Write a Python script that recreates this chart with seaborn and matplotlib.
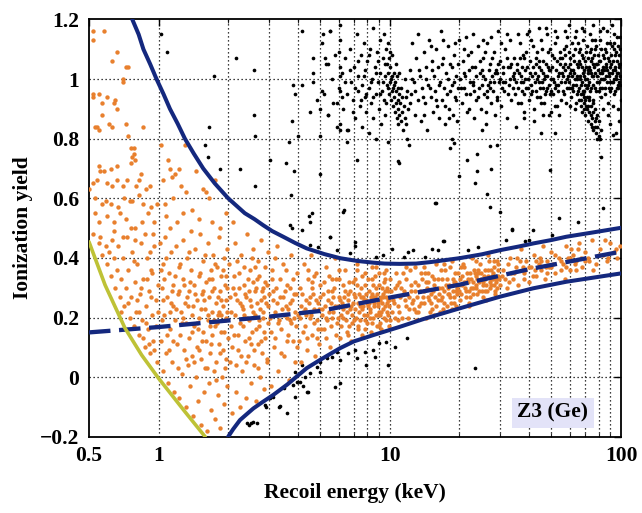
import numpy as np
import pandas as pd
import matplotlib
matplotlib.use("Agg")
import matplotlib.pyplot as plt
import seaborn as sns

# ---------------- data ----------------
# nuclear-recoil (orange) events, by region
nr_upper_left = [(0.52,1.16),(0.52,1.13),(0.58,1.16),(0.63,1.06),(0.66,1.09),(0.72,1.04),(0.74,1.04),(0.70,0.99),(0.70,1.00),
    (0.52,0.95),(0.52,0.94),(0.55,0.95),(0.57,0.92),(0.60,0.94),(0.64,0.92),(0.65,0.93),(0.66,0.90),(0.57,0.88),(0.53,0.84),
    (0.54,0.84),(0.55,0.83),(0.61,0.85),(0.63,0.84),(0.72,0.85),(0.74,0.81),(0.86,0.84),(0.76,0.77),(0.78,0.77),(0.77,0.74),
    (0.78,0.75),(0.55,0.71),(0.56,0.69),(0.58,0.69),(0.62,0.70),(0.66,0.71),(0.76,0.72),(0.79,0.73),(0.82,0.66),(0.84,0.68),
    (0.50,0.63),(0.52,0.65),(0.54,0.66),(0.60,0.65),(0.63,0.64),(0.66,0.66),(0.70,0.64),(0.73,0.66),(0.80,0.64),(0.88,0.63),
    (0.92,0.64),(0.53,0.60),(0.57,0.58),(0.59,0.59),(0.62,0.58),(0.67,0.57),(0.71,0.60),(0.75,0.59),(0.77,0.59),(0.82,0.61),
    (0.86,0.58),(0.93,0.57),(0.98,0.58),(0.53,0.55),(0.55,0.52),(0.60,0.54),(0.64,0.52),(0.68,0.55),(0.72,0.53),(0.76,0.50),
    (0.79,0.50),(0.85,0.52),(0.90,0.55),(0.96,0.52)]
nr_upper_mid = [(1.02,0.78),(1.10,0.73),(1.12,0.70),(1.18,0.68),(1.14,0.67),(1.22,0.70),(1.30,0.78),(1.45,0.69),(1.55,0.63),
    (1.60,0.62),(1.05,0.66),(1.25,0.64),(1.07,0.58),(1.15,0.60),(1.32,0.62),(1.40,0.56),(1.65,0.60),(1.75,0.66),(1.95,0.55),
    (1.08,0.54),(1.20,0.52),(1.28,0.55),(1.50,0.53),(1.70,0.52),(1.85,0.50),(2.1,0.52),(1.12,0.50),(1.38,0.49)]
nr_below_1kev = [(0.52,0.48),(0.55,0.45),(0.57,0.41),(0.56,0.47),(0.59,0.44),(0.60,0.38),(0.61,0.42),(0.62,0.34),(0.63,0.46),
    (0.64,0.40),(0.65,0.30),(0.66,0.36),(0.67,0.44),(0.68,0.27),(0.69,0.33),(0.70,0.40),(0.71,0.24),(0.72,0.30),(0.73,0.47),
    (0.74,0.36),(0.75,0.20),(0.76,0.27),(0.77,0.42),(0.78,0.17),(0.79,0.32),(0.80,0.22),(0.81,0.38),(0.82,0.14),(0.83,0.28),
    (0.84,0.45),(0.85,0.19),(0.86,0.33),(0.87,0.10),(0.88,0.24),(0.89,0.40),(0.90,0.16),(0.91,0.29),(0.92,0.08),(0.93,0.36),
    (0.94,0.21),(0.95,0.12),(0.96,0.44),(0.97,0.26),(0.98,0.05),(0.99,0.31),(0.64,0.49),(0.70,0.47),(0.79,0.46),(0.87,0.48),
    (0.95,0.48),(0.74,0.25),(0.82,0.22),(0.86,0.13),(0.91,0.11),(0.94,0.35),(0.97,0.17),(0.89,0.33),(0.78,0.39),(0.69,0.22),
    (0.84,0.30),(0.92,0.42),(0.99,0.22),(0.96,0.09),(0.93,0.27),(0.88,0.18),(0.81,0.26)]
nr_1_to_2kev = [(1.01,0.45),(1.02,0.12),(1.03,0.30),(1.04,0.02),(1.05,0.38),(1.06,0.21),(1.07,0.47),(1.08,0.08),(1.09,0.27),
    (1.10,-0.02),(1.11,0.35),(1.12,0.16),(1.13,0.42),(1.14,0.05),(1.15,0.24),(1.16,0.31),(1.17,-0.05),(1.18,0.19),(1.19,0.44),
    (1.20,0.11),(1.21,0.28),(1.22,-0.07),(1.23,0.37),(1.24,0.14),(1.25,0.22),(1.26,0.01),(1.27,0.33),(1.28,0.46),(1.29,0.09),
    (1.30,0.25),(1.31,-0.10),(1.32,0.18),(1.33,0.40),(1.34,0.04),(1.35,0.29),(1.36,0.13),(1.37,-0.03),(1.38,0.36),(1.39,0.21),
    (1.40,0.07),(1.41,-0.13),(1.42,0.31),(1.43,0.17),(1.44,0.43),(1.45,0.00),(1.46,0.26),(1.47,0.10),(1.48,-0.08),(1.49,0.34),
    (1.50,0.20),(1.51,0.48),(1.52,0.06),(1.53,-0.16),(1.54,0.28),(1.55,0.15),(1.56,0.39),(1.57,-0.05),(1.58,0.23),(1.59,0.03),
    (1.60,0.32),(1.61,0.12),(1.62,-0.18),(1.63,0.45),(1.64,0.19),(1.65,-0.02),(1.66,0.27),(1.67,0.08),(1.68,0.36),(1.69,-0.11),
    (1.70,0.22),(1.71,0.14),(1.72,0.41),(1.73,0.02),(1.74,0.30),(1.75,-0.14),(1.76,0.17),(1.77,0.25),(1.78,0.05),(1.79,0.37),
    (1.80,-0.06),(1.81,0.21),(1.82,0.11),(1.83,0.47),(1.84,0.29),(1.85,-0.17),(1.86,0.15),(1.87,0.34),(1.88,0.00),(1.89,0.24),
    (1.90,0.09),(1.91,0.40),(1.92,-0.09),(1.93,0.19),(1.94,0.31),(1.95,0.06),(1.96,0.26),(1.97,-0.03),(1.98,0.43),(1.99,0.13),
    (1.05,0.26),(1.12,0.22),(1.18,0.34),(1.26,0.18),(1.33,0.27),(1.41,0.24),(1.48,0.16),(1.55,0.29),(1.63,0.21),(1.71,0.33),
    (1.79,0.18),(1.87,0.26),(1.95,0.20),(1.09,0.14),(1.22,0.29),(1.37,0.32),(1.52,0.23),(1.67,0.17),(1.83,0.22),(1.97,0.30),
    (1.03,0.19),(1.06,0.33),(1.08,0.40),(1.11,0.09),(1.13,0.25),(1.16,0.12),(1.19,0.23),(1.21,0.03),(1.24,0.38),(1.27,0.20),
    (1.29,0.31),(1.32,0.06),(1.34,0.24),(1.36,0.42),(1.39,0.15),(1.42,0.05),(1.44,0.28),(1.46,0.18),(1.49,0.09),(1.51,0.35),
    (1.54,0.12),(1.57,0.26),(1.59,0.41),(1.62,0.03),(1.65,0.33),(1.68,0.11),(1.70,0.29),(1.73,0.19),(1.76,0.38),(1.78,-0.01),
    (1.81,0.27),(1.84,0.08),(1.86,0.21),(1.89,0.36),(1.92,0.15),(1.94,0.03),(1.96,0.34),(1.98,0.22),(1.02,0.36),(1.14,0.29)]
nr_2_to_4kev = [(2.02,0.38),(2.04,0.05),(2.06,0.22),(2.08,-0.12),(2.10,0.30),(2.12,0.14),(2.14,0.45),(2.16,-0.05),(2.18,0.26),
    (2.20,0.09),(2.22,0.35),(2.24,0.18),(2.26,-0.10),(2.28,0.41),(2.30,0.02),(2.32,0.23),(2.34,0.31),(2.36,0.12),(2.38,-0.07),
    (2.40,0.27),(2.42,0.48),(2.44,0.07),(2.46,0.19),(2.48,0.36),(2.50,-0.02),(2.52,0.24),(2.54,0.15),(2.56,0.43),(2.58,0.04),
    (2.60,0.29),(2.62,0.21),(2.64,-0.08),(2.66,0.33),(2.68,0.11),(2.70,0.39),(2.72,0.17),(2.74,0.00),(2.76,0.26),(2.78,0.46),
    (2.80,0.08),(2.82,0.30),(2.84,0.20),(2.86,-0.04),(2.88,0.37),(2.90,0.13),(2.92,0.25),(2.94,0.05),(2.96,0.42),(2.98,0.18),
    (3.00,0.28),(3.05,-0.03),(3.10,0.33),(3.15,0.10),(3.20,0.22),(3.25,0.44),(3.30,0.02),(3.35,0.27),(3.40,0.16),(3.45,0.38),
    (3.50,0.07),(3.55,0.24),(3.60,0.31),(3.65,-0.01),(3.70,0.19),(3.75,0.41),(3.80,0.12),(3.85,0.28),(3.90,0.05),(3.95,0.35),
    (4.00,0.21),(2.15,0.28),(2.35,0.21),(2.55,0.32),(2.75,0.23),(2.95,0.31),(3.12,0.26),(3.32,0.19),(3.52,0.29),(3.72,0.25),
    (3.92,0.17),(2.25,0.25),(2.45,0.29),(2.65,0.16),(2.85,0.27),(3.22,0.30),(3.42,0.23),(3.62,0.14),(3.82,0.33),(2.05,0.17),
    (2.52,0.11),(3.05,0.15),(3.58,0.20),(2.62,0.37),(3.18,0.40),(3.88,0.22),
    (2.03,0.27),(2.07,0.10),(2.11,0.34),(2.13,0.21),(2.17,0.04),(2.19,0.39),(2.21,0.14),(2.23,0.30),(2.27,0.07),(2.29,0.24),
    (2.31,0.17),(2.33,0.37),(2.37,0.28),(2.39,0.05),(2.41,0.20),(2.43,0.33),(2.47,0.13),(2.49,0.26),(2.53,0.40),(2.57,0.22),
    (2.59,0.09),(2.63,0.30),(2.67,0.25),(2.69,0.03),(2.71,0.34),(2.73,0.19),(2.77,0.12),(2.79,0.29),(2.83,0.22),(2.87,0.15),
    (2.89,0.32),(2.93,0.06),(2.97,0.24),(3.02,0.20),(3.08,0.36),(3.14,0.29),(3.19,0.13),(3.24,0.25),(3.29,0.18),(3.34,0.33),
    (3.39,0.08),(3.44,0.27),(3.49,0.21),(3.54,0.36),(3.59,0.12),(3.64,0.23),(3.69,0.30),(3.74,0.18),(3.79,0.26),(3.86,0.20),
    (3.94,0.28),(3.98,0.10)]
nr_4_to_10kev = [(4.05,0.12),(4.1,0.30),(4.15,0.05),(4.2,0.22),(4.25,0.38),(4.3,0.17),(4.35,0.26),(4.4,0.09),(4.45,0.33),
    (4.5,0.20),(4.55,0.41),(4.6,0.14),(4.65,0.28),(4.7,0.23),(4.75,0.07),(4.8,0.35),(4.85,0.19),(4.9,0.25),(4.95,0.11),(5.0,0.31),
    (5.1,0.21),(5.2,0.16),(5.3,0.37),(5.4,0.26),(5.5,0.10),(5.6,0.29),(5.7,0.22),(5.8,0.40),(5.9,0.18),(6.0,0.33),(6.1,0.13),
    (6.2,0.25),(6.3,0.20),(6.4,0.36),(6.5,0.15),(6.6,0.28),(6.7,0.23),(6.8,0.12),(6.9,0.32),(7.0,0.19),(7.1,0.27),(7.2,0.38),
    (7.3,0.16),(7.4,0.24),(7.5,0.30),(7.6,0.14),(7.7,0.21),(7.8,0.35),(7.9,0.26),(8.0,0.18),(8.1,0.29),(8.2,0.23),(8.3,0.15),
    (8.4,0.33),(8.5,0.20),(8.6,0.27),(8.7,0.37),(8.8,0.17),(8.9,0.25),(9.0,0.31),(9.1,0.21),(9.2,0.16),(9.3,0.28),(9.4,0.35),
    (9.5,0.24),(9.6,0.19),(9.7,0.30),(9.8,0.26),(9.9,0.17),(10.0,0.33),(4.12,0.24),(4.32,0.21),(4.52,0.27),(4.72,0.18),
    (4.92,0.23),(5.15,0.28),(5.35,0.19),(5.55,0.25),(5.75,0.30),(5.95,0.24),(6.15,0.21),(6.35,0.27),(6.55,0.22),(6.75,0.29),
    (6.95,0.25),(7.15,0.20),(7.35,0.28),(7.55,0.23),(7.75,0.26),(7.95,0.21),(8.15,0.25),(8.35,0.28),(8.55,0.24),(8.75,0.30),
    (8.95,0.22),(9.15,0.27),(9.35,0.23),(9.55,0.29),(9.75,0.22),(9.95,0.26),(4.22,0.15),(4.62,0.32),(5.05,0.16),(5.45,0.34),
    (5.85,0.14),(6.25,0.31),(6.65,0.17),(7.05,0.33),(7.45,0.19),(7.85,0.31),(8.25,0.20),(8.65,0.34),(9.05,0.18),(9.45,0.32),
    (9.85,0.21),(4.42,0.36),(4.82,0.13),(5.25,0.24),(5.65,0.20),(6.05,0.27),(6.45,0.24),(6.85,0.21),(7.25,0.25),(7.65,0.27),
    (8.05,0.24),(8.45,0.27),(8.85,0.21),(9.25,0.25),(9.65,0.27),
    (4.08,0.20),(4.18,0.28),(4.28,0.23),(4.38,0.13),(4.48,0.25),(4.58,0.21),(4.68,0.34),(4.78,0.26),(4.88,0.16),(4.98,0.27),
    (5.08,0.23),(5.18,0.32),(5.28,0.20),(5.38,0.29),(5.48,0.22),(5.58,0.17),(5.68,0.27),(5.78,0.24),(5.88,0.33),(5.98,0.20),
    (6.08,0.26),(6.18,0.17),(6.28,0.23),(6.38,0.29),(6.48,0.19),(6.58,0.26),(6.68,0.32),(6.78,0.24),(6.88,0.18),(6.98,0.28),
    (7.08,0.23),(7.18,0.31),(7.28,0.17),(7.38,0.22),(7.48,0.27),(7.58,0.34),(7.68,0.24),(7.78,0.19),(7.88,0.28),(7.98,0.25),
    (8.08,0.33),(8.18,0.22),(8.28,0.27),(8.38,0.18),(8.48,0.31),(8.58,0.25),(8.68,0.21),(8.78,0.28),(8.88,0.24),(8.98,0.35),
    (9.08,0.26),(9.18,0.22),(9.28,0.30),(9.38,0.27),(9.48,0.20),(9.58,0.33),(9.68,0.25),(9.78,0.29),(9.88,0.24),(9.98,0.19),
    (4.6,0.30),(5.3,0.13),(6.0,0.36),(6.6,0.14),(7.2,0.36),(7.8,0.16),(8.4,0.37),(9.0,0.17),(9.6,0.36),(5.6,0.33)]
nr_10_to_30kev = [(10.2,0.22),(10.5,0.30),(10.8,0.19),(11.1,0.27),(11.4,0.35),(11.7,0.24),(12.0,0.20),(12.3,0.31),(12.6,0.26),
    (12.9,0.37),(13.2,0.22),(13.5,0.29),(13.8,0.33),(14.1,0.25),(14.4,0.20),(14.7,0.35),(15.0,0.28),(15.3,0.23),(15.6,0.31),
    (15.9,0.38),(16.2,0.26),(16.5,0.22),(16.8,0.33),(17.1,0.29),(17.4,0.36),(17.7,0.24),(18.0,0.31),(18.3,0.27),(18.6,0.39),
    (18.9,0.25),(19.2,0.32),(19.5,0.28),(19.8,0.35),(20.2,0.26),(20.6,0.31),(21.0,0.37),(21.4,0.29),(21.8,0.33),(22.2,0.27),
    (22.6,0.40),(23.0,0.30),(23.4,0.35),(23.8,0.28),(24.2,0.32),(24.6,0.38),(25.0,0.29),(25.5,0.34),(26.0,0.31),(26.5,0.41),
    (27.0,0.30),(27.5,0.36),(28.0,0.33),(28.5,0.29),(29.0,0.39),(29.5,0.34),(30.0,0.31),(10.3,0.26),(10.9,0.24),(11.5,0.29),
    (12.1,0.27),(12.7,0.23),(13.3,0.31),(13.9,0.27),(14.5,0.30),(15.1,0.25),(15.7,0.27),(16.3,0.30),(16.9,0.27),(17.5,0.31),
    (18.1,0.28),(18.7,0.33),(19.3,0.29),(19.9,0.31),(20.5,0.34),(21.1,0.30),(21.7,0.32),(22.3,0.35),(22.9,0.32),(23.5,0.30),
    (24.1,0.35),(24.7,0.33),(25.3,0.31),(25.9,0.36),(26.5,0.34),(27.1,0.32),(27.7,0.34),(28.3,0.37),(28.9,0.32),(29.5,0.36),
    (10.6,0.35),(11.3,0.20),(12.2,0.36),(13.0,0.19),(14.0,0.37),(14.9,0.22),(16.0,0.39),(17.0,0.23),(18.2,0.37),(19.4,0.24),
    (20.8,0.38),(22.0,0.25),(23.6,0.39),(25.2,0.27),(26.8,0.39),(28.6,0.28),(11.0,0.32),(11.9,0.28),(12.9,0.29),(13.7,0.25),
    (14.6,0.27),(15.5,0.33),(16.6,0.26),(17.8,0.28),(19.0,0.27),(20.0,0.29),(21.3,0.27),(22.5,0.30),(23.9,0.33),(25.7,0.29),
    (27.3,0.33),(29.2,0.30),
    (10.1,0.29),(10.4,0.25),(10.7,0.31),(11.0,0.22),(11.2,0.30),(11.6,0.26),(11.8,0.33),(12.1,0.23),(12.4,0.29),(12.8,0.32),
    (13.1,0.27),(13.4,0.24),(13.6,0.35),(14.0,0.29),(14.3,0.32),(14.8,0.26),(15.2,0.34),(15.4,0.29),(15.8,0.24),(16.1,0.33),
    (16.4,0.28),(16.7,0.36),(17.2,0.25),(17.6,0.33),(17.9,0.30),(18.4,0.25),(18.8,0.29),(19.1,0.35),(19.6,0.30),(20.1,0.33),
    (20.4,0.28),(20.9,0.32),(21.5,0.35),(21.9,0.29),(22.4,0.33),(22.8,0.28),(23.2,0.36),(23.7,0.31),(24.4,0.29),(24.9,0.35),
    (25.4,0.32),(26.2,0.29),(26.7,0.36),(27.4,0.31),(27.9,0.35),(28.7,0.33),(29.3,0.38),(29.8,0.33),(10.5,0.20),(11.7,0.37),
    (13.0,0.22),(14.2,0.35),(15.6,0.21),(17.1,0.38),(18.5,0.23),(20.3,0.37),(21.9,0.24),(24.0,0.36),(26.0,0.26),(28.1,0.39),
    (12.5,0.25),(14.6,0.32),(16.8,0.30),(19.0,0.32),(21.4,0.32),(23.6,0.34),(25.8,0.33),(28.2,0.31)]
nr_30_to_100kev = [(31,0.36),(32,0.30),(33,0.40),(34,0.33),(35,0.37),(36,0.31),(37,0.43),(38,0.35),(39,0.39),(40,0.32),(41,0.37),
    (42,0.41),(43,0.34),(44,0.38),(45,0.36),(46,0.44),(47,0.33),(48,0.39),(49,0.37),(50,0.42),(52,0.35),(54,0.40),(56,0.38),
    (58,0.44),(60,0.36),(62,0.41),(64,0.39),(66,0.45),(68,0.37),(70,0.42),(72,0.40),(75,0.46),(78,0.38),(81,0.43),(84,0.41),
    (87,0.39),(90,0.45),(93,0.42),(96,0.40),(99,0.44),(31.5,0.33),(33.5,0.35),(35.5,0.40),(38.5,0.36),(41.5,0.34),(44.5,0.40),
    (47.5,0.37),(51,0.38),(55,0.36),(59,0.40),(63,0.38),(67,0.40),(73,0.39),(80,0.41),(88,0.40),(95,0.43),(57,0.33),(65,0.43),
    (76,0.36),(85,0.46),(30.5,0.34),(32.5,0.38),(34.5,0.35),(36.5,0.39),(38,0.33),(40,0.37),(42.5,0.36),(45,0.39),(48,0.35),
    (52,0.41),(55,0.39),(58,0.37),(61,0.43),(64,0.36),(70,0.39),(32.8,0.32),(37.5,0.37),(43,0.39),(50,0.37),(60,0.40)]

# electron-recoil and other (black) events, by region
er_scattered_low = [(1.02,1.15),(1.09,1.09),(2.17,1.07),(1.73,1.01),(1.65,0.84),(1.59,0.78),(1.63,0.74),(1.85,0.70),(2.24,0.70),
    (2.58,1.03),(2.58,0.88),(2.62,0.81),(2.61,0.64),(3.03,0.73),(3.55,0.72),(3.85,0.69),(3.73,0.61),(4.16,1.16),(3.83,0.98),
    (3.89,0.95),(4.19,0.98),(4.65,1.07),(4.67,1.02),(4.67,0.99),(4.5,0.89),(3.76,0.86),(4.0,0.81),(3.67,0.79),(5.0,0.90),
    (5.07,0.96),(4.83,0.93),(5.5,1.16),(5.13,1.15),(5.22,1.07),(5.4,1.05),(5.39,0.88),(5.0,0.81),(5.0,0.68),(5.9,0.92),
    (6.1,1.18),(6.05,1.09),(6.1,1.04),(6.1,1.01),(6.1,0.96),(6.1,0.85),(6.1,0.83),(6.5,0.83),(6.5,0.79),(7.2,0.73),
    (4.46,0.54),(4.59,0.55),(4.5,0.52),(6.36,0.56),(3.7,0.51)]
er_below_band = [(2.41,-0.155),(2.45,-0.16),(2.5,-0.155),(2.55,-0.15),(2.92,-0.10),(3.13,-0.066),(3.35,-0.097),(3.83,-0.026),
    (3.9,-0.066),(4.09,-0.015),(4.2,-0.03),(4.44,-0.049),(4.52,0.013),(4.83,0.035),(2.66,-0.155),(2.88,-0.094),(3.32,-0.10),
    (3.03,-0.07),(3.47,-0.038),(3.95,-0.015),(3.89,0.018),(4.17,0.04),(4.30,0.001),(4.37,-0.049),(5.0,0.018),(5.0,0.052),
    (5.33,0.063),(5.62,0.068),(5.9,0.085),(6.1,0.057),(7.07,0.091),(7.2,0.063),(7.8,0.085),(8.6,0.068),(9.8,0.04),(9.67,0.119),
    (5.8,-0.032),(6.1,-0.02),(7.9,0.04),(8.5,0.09),(9.0,0.113),(11.9,0.13),(23.3,0.03),(6.6,0.08),(10.5,0.10),(3.6,-0.12)]
er_above_band = [(3.76,0.50),(4.16,0.494),(5.5,0.471),(5.9,0.426),(7.07,0.441),(7.1,0.455),(6.7,0.415),(8.7,0.404),(9.3,0.41),
    (10.2,0.43),(4.9,0.437),(4.5,0.443),(11.5,0.404),(12.0,0.42),(12.6,0.426),(14.2,0.404),(17.2,0.457),(21.7,0.426),
    (24.0,0.438),(31.8,0.46),(33.8,0.494),(38.4,0.457),(40.0,0.46),(41.7,0.494),(50.1,0.477),(16.1,0.426),(15.2,0.43)]
er_intermediate = [(18.2,0.768),(18.9,0.785),(21.6,0.728),(23.8,0.748),(23.8,0.692),(23.3,0.652),(27.3,0.70),(27.2,0.775),
    (29.0,0.78),(26.3,0.614),(27.2,0.572),(30.0,0.555),(19.9,0.675),(15.8,0.583),(11.0,0.72),(49.5,0.695),(53.8,0.533),
    (65.4,0.521),(83.8,0.568),(81.6,0.74),(92.0,0.812),(52.0,0.818),(18.5,0.80),(9.8,0.79),(10.9,0.725),(6.3,0.555),
    (5.5,0.471),(15.7,0.585),(17.0,0.458),(33.8,0.496),(45.0,0.82),(35.0,0.84),(25.0,0.83)]
er_band_5_to_10 = [(5.1,1.12),(5.2,0.95),(5.3,1.05),(5.4,0.88),(5.5,1.16),(5.6,1.00),(5.7,0.92),(5.8,1.08),(5.9,0.84),(6.0,0.97),
    (6.1,1.13),(6.2,1.02),(6.3,0.90),(6.4,1.07),(6.5,0.95),(6.6,0.83),(6.7,1.10),(6.8,0.99),(6.9,0.93),(7.0,1.04),(7.1,0.87),
    (7.2,1.15),(7.25,0.96),(7.3,1.01),(7.4,0.91),(7.5,1.08),(7.55,0.84),(7.6,0.98),(7.7,1.12),(7.8,0.94),(7.85,1.03),(7.9,0.89),
    (8.0,1.06),(8.1,0.97),(8.15,0.82),(8.2,1.10),(8.3,0.92),(8.4,1.00),(8.45,1.17),(8.5,0.87),(8.6,1.04),(8.7,0.95),(8.75,0.80),
    (8.8,1.09),(8.9,0.99),(9.0,0.90),(9.05,1.13),(9.1,1.02),(9.2,0.85),(9.25,0.96),(9.3,1.07),(9.4,0.93),(9.45,1.15),(9.5,0.88),
    (9.5,1.01),(6.2,0.94),(6.4,0.99),(6.7,1.03),(6.9,0.89),(7.1,0.97),(7.3,1.06),(7.5,0.93),(7.7,1.01),(7.9,0.95),(8.1,1.08),
    (8.3,0.99),(8.5,0.94),(8.7,1.02),(8.9,1.06),(9.1,0.95),(9.3,0.99),(9.5,1.05)]
er_line_10kev = [(9.6,1.10),(9.7,1.05),(9.7,0.98),(9.8,1.12),(9.8,1.02),(9.9,0.95),(9.9,1.07),(10.0,0.99),(10.0,1.04),(10.1,0.93),
    (10.1,1.00),(10.2,0.96),(10.2,1.08),(10.3,0.91),(10.3,0.97),(10.4,1.02),(10.4,0.94),(10.5,0.89),(10.5,0.99),(10.6,0.92),
    (10.6,0.96),(10.7,0.87),(10.7,1.01),(10.8,0.93),(10.9,0.90),(10.9,0.85),(11.0,0.95),(11.0,0.88),(11.1,0.92),(11.2,0.86),
    (11.2,0.97),(11.3,0.89),(11.4,0.83),(11.5,0.91),(11.6,0.87),(11.7,0.94),(11.8,0.85),(11.9,0.80),(12.0,0.90),(12.1,0.78),
    (9.6,0.92),(9.8,0.97),(10.0,1.09),(10.2,1.01),(10.4,0.98),(10.6,1.05),(10.8,0.97),(11.0,1.02),(11.3,0.94),(11.6,1.00),
    (11.9,0.96),(12.2,0.92),(12.5,1.00)]
er_band_12_to_35 = [(12.2,1.03),(12.4,0.95),(12.5,1.12),(12.7,0.99),(12.8,0.88),(13.0,1.07),(13.2,0.93),(13.3,1.15),(13.5,1.01),
    (13.7,0.86),(13.8,0.97),(14.0,1.09),(14.2,0.92),(14.3,1.04),(14.5,0.83),(14.7,0.98),(14.8,1.13),(15.0,0.94),(15.2,1.06),
    (15.4,0.89),(15.5,1.01),(15.7,0.96),(15.9,1.10),(16.0,0.91),(16.2,1.04),(16.4,0.87),(16.5,0.99),(16.7,1.16),(16.9,0.93),
    (17.0,1.07),(17.2,0.97),(17.4,0.85),(17.5,1.02),(17.7,0.95),(17.9,1.11),(18.0,0.90),(18.3,1.05),(18.5,0.98),(18.7,0.88),
    (18.9,1.08),(19.1,0.94),(19.3,1.01),(19.5,0.86),(19.7,0.97),(19.9,1.13),(20.2,1.00),(20.5,0.92),(20.8,1.06),(21.0,0.97),
    (21.3,1.14),(21.6,0.89),(21.9,1.03),(22.2,0.95),(22.5,1.09),(22.8,0.99),(23.1,0.87),(23.4,1.04),(23.7,0.93),(24.0,1.11),
    (24.3,0.97),(24.6,1.02),(24.9,0.90),(25.2,1.07),(25.5,0.95),(25.8,1.00),(26.1,0.85),(26.4,1.12),(26.7,0.98),(27.0,1.05),
    (27.3,0.92),(27.6,1.01),(27.9,0.96),(28.2,1.09),(28.5,0.88),(28.8,1.03),(29.1,0.94),(29.4,1.16),(29.7,0.99),(30.0,1.06),
    (30.4,0.91),(30.8,1.02),(31.2,0.96),(31.6,1.10),(32.0,0.87),(32.4,1.04),(32.8,0.98),(33.2,1.13),(33.6,0.93),(34.0,1.01),
    (34.4,1.07),(34.8,0.95),(21.2,1.01),(23.0,0.98),(25.0,1.03),(27.2,0.99),(29.0,1.02),(31.0,0.99),(33.0,1.04),(34.6,1.00),
    (26.2,0.94),
    (12.9,0.96),(13.4,1.03),(13.9,0.94),(14.4,1.00),(14.9,0.97),(15.3,1.03),(15.8,0.93),(16.3,0.98),(16.8,1.05),(17.3,0.91),
    (17.8,1.00),(18.2,0.96),(18.6,1.04),(19.0,0.99),(19.4,0.93),(19.8,1.05),(20.4,0.97),(20.9,1.02),(21.4,0.95),(21.8,1.08),
    (22.3,0.99),(22.7,1.04),(23.2,0.96),(23.6,1.01),(24.1,0.94),(24.5,1.06),(25.0,0.98),(25.4,1.01),(25.9,1.09),(26.3,0.96),
    (26.8,1.03),(27.2,0.97),(27.7,1.07),(28.1,0.99),(28.6,1.02),(29.0,0.93),(29.5,1.05),(29.9,1.00),(30.5,0.97),(31.0,1.04),
    (31.5,0.99),(32.0,1.07),(32.5,0.95),(33.0,1.00),(33.5,1.05),(34.0,0.97),(34.5,1.02),(15.0,1.11),(17.0,1.13),(19.2,1.12),
    (21.0,1.10),(23.0,1.15),(25.2,1.13),(27.5,1.14),(30.2,1.12),(32.2,1.15),(14.0,0.88),(18.0,0.87),(22.0,0.90),(26.0,0.89)]
er_band_35_to_55 = [(35.2,0.99),(35.6,1.05),(36.0,0.92),(36.4,1.12),(36.8,1.01),(37.2,0.96),(37.6,1.08),(38.0,0.89),(38.4,1.03),
    (38.8,0.97),(39.2,1.15),(39.6,1.00),(40.0,0.93),(40.5,1.06),(41.0,0.98),(41.5,1.11),(42.0,0.90),(42.5,1.02),(43.0,0.96),
    (43.5,1.09),(44.0,1.04),(44.5,0.94),(45.0,1.13),(45.5,0.99),(46.0,1.06),(46.5,0.92),(47.0,1.01),(47.5,1.17),(48.0,0.97),
    (48.5,1.04),(49.0,0.88),(49.5,1.10),(50.0,1.00),(50.6,0.95),(51.2,1.07),(51.8,0.91),(52.4,1.03),(53.0,1.14),(53.6,0.98),
    (54.2,1.05),(54.8,0.93),(36.2,1.02),(37.8,0.99),(39.4,1.04),(41.2,1.01),(42.8,1.05),(44.2,0.99),(45.8,1.02),(47.3,0.96),
    (48.8,1.03),(50.3,1.08),(51.5,0.99),(53.3,1.01),(54.5,1.09),(38.2,1.07),(40.8,0.95),(43.2,1.00),(46.2,0.97),(49.2,0.95),
    (52.0,0.97),
    (35.4,1.03),(35.9,0.97),(36.6,1.07),(37.0,0.99),(37.4,1.04),(38.2,0.95),(38.6,1.00),(39.0,1.09),(39.8,0.97),(40.3,1.02),
    (40.7,1.13),(41.3,0.96),(41.8,1.04),(42.3,0.99),(42.7,1.07),(43.3,0.94),(43.8,1.01),(44.3,1.06),(44.8,0.97),(45.3,1.03),
    (45.7,1.10),(46.3,1.00),(46.8,0.95),(47.2,1.05),(47.8,1.01),(48.3,1.09),(48.7,0.98),(49.3,1.03),(49.8,0.96),(50.4,1.04),
    (51.0,1.00),(51.6,1.12),(52.2,0.98),(52.8,1.06),(53.4,0.96),(54.0,1.02),(54.6,1.07),(36.0,1.15),(40.0,1.16),(44.0,1.17),
    (48.0,1.15),(52.0,1.16),(38.0,0.87),(42.0,0.86),(46.0,0.88),(50.0,0.89),(54.0,0.88),(37.0,0.92),(45.0,0.92),(53.0,0.91)]
er_band_55_to_100 = [(55.5,1.02),(56.0,0.96),(56.5,1.10),(57.0,0.99),(57.5,1.05),(58.0,0.92),(58.5,1.14),(59.0,1.01),(59.5,0.97),
    (60.0,1.07),(60.5,0.94),(61.0,1.03),(61.5,1.12),(62.0,0.98),(62.5,1.06),(63.0,0.90),(63.5,1.00),(64.0,1.16),(64.5,0.95),
    (65.0,1.04),(65.5,1.09),(66.0,0.97),(66.5,1.01),(67.0,0.93),(67.5,1.08),(68.0,0.99),(68.5,1.13),(69.0,1.03),(69.5,0.96),
    (70.0,1.06),(70.5,0.91),(71.0,1.00),(71.5,1.11),(72.0,0.98),(72.5,1.04),(73.0,0.94),(73.5,1.15),(74.0,1.02),(74.5,0.97),
    (75.0,1.07),(75.5,0.93),(76.0,1.01),(77.0,1.10),(78.0,0.96),(79.0,1.05),(80.0,0.99),(81.0,1.13),(82.0,0.94),(83.0,1.03),
    (84.0,1.08),(85.0,0.97),(86.0,1.01),(87.0,1.16),(88.0,0.92),(89.0,1.06),(90.0,0.99),(91.0,1.11),(92.0,1.03),(93.0,0.95),
    (94.0,1.08),(95.0,1.00),(96.0,1.14),(97.0,0.97),(98.0,1.05),(99.0,1.01),(99.5,0.93),(56.2,1.04),(58.2,1.00),(60.2,1.02),
    (62.2,1.03),(64.2,1.00),(66.2,1.05),(68.2,1.02),(70.2,1.00),(72.2,1.03),(74.2,1.06),(76.5,1.04),(78.5,1.01),(80.5,1.06),
    (82.5,1.02),(84.5,1.00),(86.5,1.04),(88.5,1.02),(90.5,1.05),(92.5,0.99),(94.5,1.03),(96.5,1.02),(98.5,1.08),(57.2,1.08),
    (61.2,0.97),(65.2,1.12),(69.2,0.94),(73.2,1.09),(77.5,1.13),(81.5,0.97),(85.5,1.10),(89.5,0.96),(93.5,1.12),(97.5,0.98),
    (59.8,1.18),(67.8,1.17),(75.8,1.18),(83.8,1.17),(91.8,1.18),
    (55.2,0.99),(55.8,1.07),(56.4,1.01),(56.8,0.95),(57.4,1.03),(57.8,1.11),(58.4,0.97),(58.8,1.04),(59.3,1.09),(59.7,0.99),
    (60.3,1.05),(60.8,0.97),(61.3,1.01),(61.8,1.08),(62.3,0.96),(62.8,1.02),(63.3,1.10),(63.8,0.98),(64.3,1.05),(64.8,1.01),
    (65.3,0.96),(65.8,1.06),(66.3,1.00),(66.8,1.10),(67.3,0.98),(67.8,1.04),(68.3,0.96),(68.8,1.07),(69.3,1.01),(69.8,0.98),
    (70.3,1.04),(70.8,1.09),(71.3,0.97),(71.8,1.02),(72.3,1.07),(72.8,0.99),(73.3,1.03),(73.8,0.96),(74.3,1.10),(74.8,1.01),
    (75.3,1.05),(75.8,0.98),(76.3,1.08),(76.8,1.02),(77.3,0.97),(77.8,1.05),(78.3,1.11),(78.8,0.99),(79.3,1.03),(79.8,1.08),
    (80.3,0.96),(80.8,1.02),(81.3,1.06),(81.8,1.00),(82.3,1.10),(82.8,0.97),(83.3,1.04),(83.8,1.00),(84.3,1.07),(84.8,1.03),
    (85.3,0.95),(85.8,1.05),(86.3,1.09),(86.8,0.99),(87.3,1.03),(87.8,1.07),(88.3,0.97),(88.8,1.01),(89.3,1.12),(89.8,1.04),
    (90.3,0.97),(90.8,1.08),(91.3,1.02),(91.8,0.99),(92.3,1.06),(92.8,1.10),(93.3,1.00),(93.8,0.96),(94.3,1.04),(94.8,1.09),
    (95.3,1.01),(95.8,0.97),(96.3,1.06),(96.8,1.11),(97.3,1.02),(97.8,0.99),(98.3,1.04),(98.8,1.10),(99.3,0.98),(99.7,1.05),
    (57,1.16),(63,1.14),(69,1.16),(75,1.13),(81,1.16),(87,1.12),(93,1.15),(99,1.14),(60,0.91),(64,0.92),(84,0.90),(92,0.91),
    (97,0.90)]
er_line_70kev = [(66,0.93),(67,0.91),(68,0.89),(69,0.92),(70,0.88),(71,0.90),(72,0.86),(73,0.89),(74,0.85),(75,0.87),(76,0.83),
    (77,0.86),(78,0.82),(79,0.84),(80,0.81),(81,0.80),(68.5,0.95),(71.5,0.94),(74.5,0.91),(77.5,0.90),(73,0.93),(76,0.89),
    (79,0.88),(90,0.85),(95,0.82),(98,0.86),(88,0.88),(67,0.95),(69,0.90),(70,0.93),(72,0.91),(74,0.88),(75,0.84),(77,0.84),
    (78,0.87),(79,0.80),(80,0.86),(82,0.83),(76,0.92)]

# curves
upper_band_E = [0.77, 0.82, 0.86, 0.92, 0.98, 1.05, 1.12, 1.21, 1.30, 1.42, 1.56, 1.75, 2.0, 2.36, 2.6, 2.83, 3.1, 3.46, 3.9,
                4.37, 5.2, 6.1, 7.2, 8.5, 9.5, 11.0, 13.0, 15.0, 20.0, 25.0, 30.0, 36.0, 42.0, 50.0, 58.0, 75.0, 100.0]
upper_band_Q = [1.20, 1.15, 1.10, 1.05, 1.00, 0.95, 0.90, 0.85, 0.80, 0.75, 0.70, 0.65, 0.60, 0.55, 0.53, 0.51, 0.49, 0.471, 0.45,
                0.432, 0.413, 0.399, 0.39, 0.384, 0.381, 0.380, 0.381, 0.386, 0.399, 0.412, 0.426, 0.438, 0.449, 0.46, 0.471, 0.485, 0.501]
lower_band_E = [2.0, 2.1, 2.25, 2.4, 2.57, 2.8, 3.13, 3.6, 4.37, 5.0, 6.09, 7.0, 8.48, 11.07, 14.0, 20.1, 30.0, 41.7, 58.0, 100.0]
lower_band_Q = [-0.20, -0.175, -0.144, -0.125, -0.105, -0.085, -0.06, -0.025, 0.03, 0.058, 0.097, 0.12, 0.141, 0.169, 0.195,
                0.231, 0.27, 0.298, 0.32, 0.348]
mean_E = [0.5, 1.0, 2.0, 3.0, 5.0, 10.0, 20.0, 40.0, 100.0]
mean_Q = [0.150, 0.168, 0.190, 0.203, 0.222, 0.267, 0.310, 0.362, 0.421]
threshold_E = [0.5, 0.587, 0.716, 0.845, 1.0, 1.30, 1.59]
threshold_Q = [0.454, 0.309, 0.164, 0.074, -0.004, -0.116, -0.20]

x_ticks = [0.5, 1, 10, 100]
x_tick_labels = ["0.5", "1", "10", "100"]
y_ticks = [-0.2, 0, 0.2, 0.4, 0.6, 0.8, 1.0, 1.2]
y_tick_labels = ["\u22120.2", "0", "0.2", "0.4", "0.6", "0.8", "1", "1.2"]
grid_x = [1, 2, 3, 4, 5, 6, 7, 8, 9, 10, 20, 30, 40, 50, 60, 70, 80, 90]

# ---------------- plotting ----------------
sns.set_theme(style="white")
plt.rcParams["font.family"] = ["Liberation Serif", "DejaVu Serif"]
plt.rcParams["font.weight"] = "bold"
plt.rcParams["text.color"] = "black"
plt.rcParams["axes.labelcolor"] = "black"

orange_pts = (nr_upper_left + nr_upper_mid + nr_below_1kev + nr_1_to_2kev + nr_2_to_4kev +
              nr_4_to_10kev + nr_10_to_30kev + nr_30_to_100kev)
black_pts = (er_scattered_low + er_below_band + er_above_band + er_intermediate + er_band_5_to_10 +
             er_line_10kev + er_band_12_to_35 + er_band_35_to_55 + er_band_55_to_100 + er_line_70kev)
df_nr = pd.DataFrame(orange_pts, columns=["E", "Q"])
df_er = pd.DataFrame(black_pts, columns=["E", "Q"])

fig = plt.figure(figsize=(6.42, 5.13), dpi=100)
ax = fig.add_axes([0.1386, 0.1487, 0.8287, 0.8133])
ax.set_xscale("log")

ORANGE = "#E8802E"
BLUE = "#14287E"
YELLOW = "#BEC236"

sns.scatterplot(data=df_er, x="E", y="Q", ax=ax, color="black", s=7, linewidth=0, zorder=3)
sns.scatterplot(data=df_nr, x="E", y="Q", ax=ax, color=ORANGE, s=10, linewidth=0, zorder=3)

sns.lineplot(x=upper_band_E, y=upper_band_Q, ax=ax, color=BLUE, lw=2.9, sort=False, estimator=None, zorder=4)
sns.lineplot(x=lower_band_E, y=lower_band_Q, ax=ax, color=BLUE, lw=2.9, sort=False, estimator=None, zorder=4)
sns.lineplot(x=mean_E, y=mean_Q, ax=ax, color=BLUE, lw=3.1, sort=False, estimator=None, zorder=4)
ax.lines[-1].set_dashes([5.0, 2.0])
sns.lineplot(x=threshold_E, y=threshold_Q, ax=ax, color=YELLOW, lw=2.6, sort=False, estimator=None, zorder=4)

ax.set_xlim(0.5, 100)
ax.set_ylim(-0.2, 1.2)

# grid
for gx in grid_x:
    ax.axvline(gx, color="black", lw=0.9, ls=(0, (1, 2.2)), zorder=1)
for gy in y_ticks[1:-1]:
    ax.axhline(gy, color="black", lw=0.9, ls=(0, (1, 2.2)), zorder=1)

ax.set_xticks(x_ticks)
ax.set_xticklabels(x_tick_labels)
ax.xaxis.set_minor_locator(matplotlib.ticker.FixedLocator(grid_x))
ax.xaxis.set_minor_formatter(matplotlib.ticker.NullFormatter())
ax.set_yticks(y_ticks)
ax.set_yticklabels(y_tick_labels)
ax.tick_params(axis="both", which="major", direction="in", length=5, width=1,
               top=True, right=True, labelsize=15.5, pad=7, colors="black")
ax.tick_params(axis="x", which="minor", direction="in", length=3, width=0.8, top=True, bottom=True)
for lab in ax.get_xticklabels() + ax.get_yticklabels():
    lab.set_fontweight("bold")

for sp in ax.spines.values():
    sp.set_color("black")
    sp.set_linewidth(1.3)

ax.set_xlabel("Recoil energy (keV)", fontsize=15.5, fontweight="bold", labelpad=12, color="black")
ax.set_ylabel("Ionization yield", fontsize=15.5, fontweight="bold", labelpad=5, color="black")

ax.text(0.872, 0.057, "Z3 (Ge)", transform=ax.transAxes, ha="center", va="center",
        fontsize=15.5, fontweight="bold", zorder=6, color="black",
        bbox=dict(boxstyle="square,pad=0.25", facecolor="#E3E3F8", edgecolor="none"))

fig.savefig("out.png", dpi=100)
